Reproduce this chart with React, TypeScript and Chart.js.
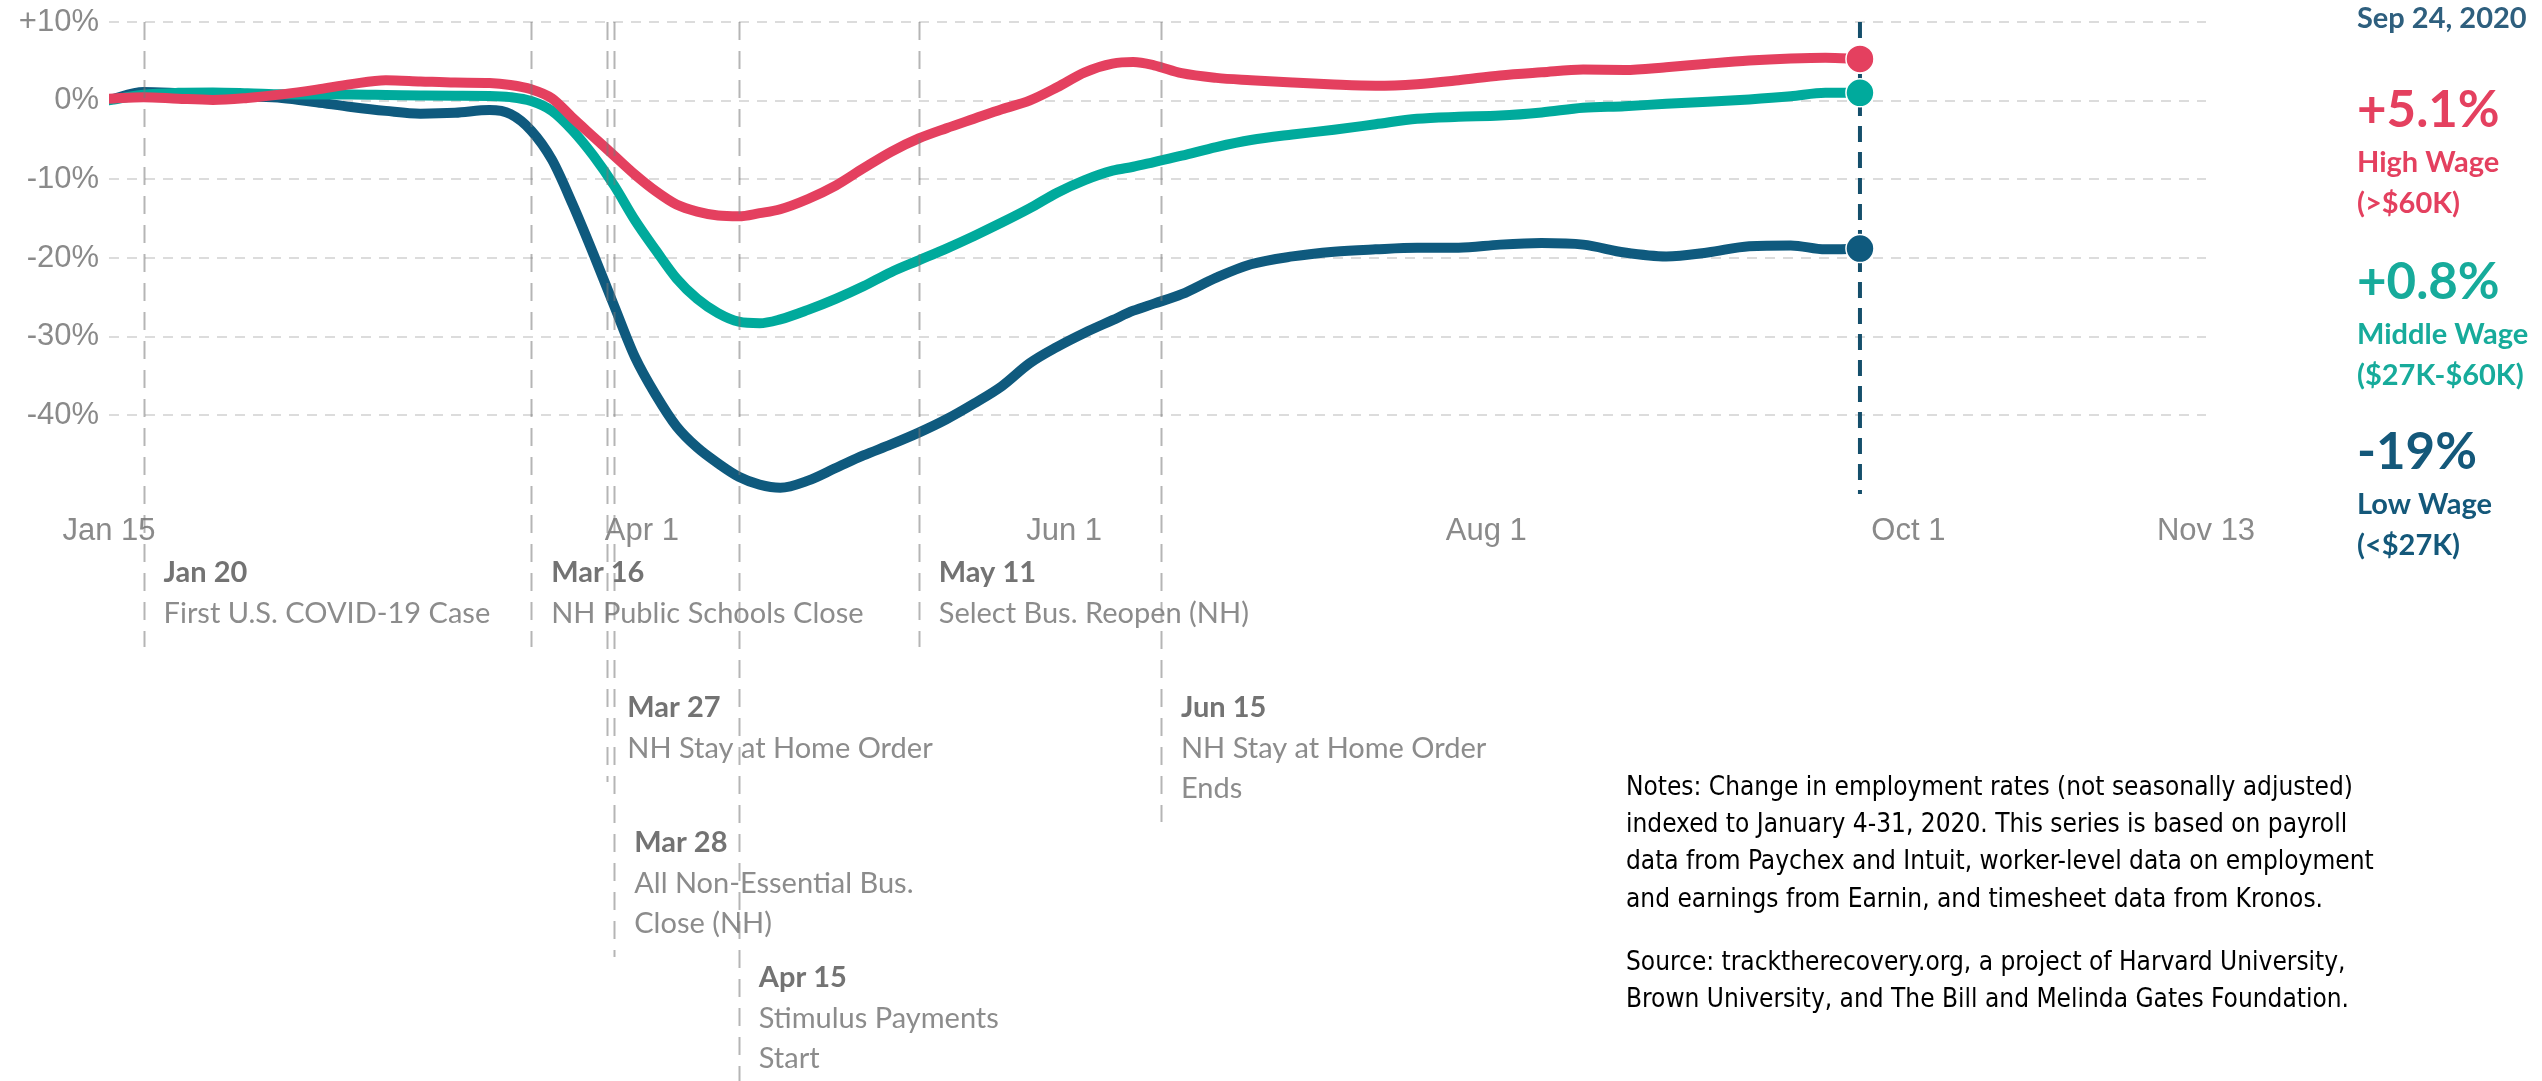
import React, { useEffect, useRef } from 'react';
import { Chart, registerables } from 'chart.js';

Chart.register(...registerables);

// Day of year (2020) for each observation
const DAYS = [15, 20, 25, 30, 35, 40, 45, 50, 55, 60, 65, 70, 73, 76, 79, 82, 85, 88, 91, 94, 97, 100, 103, 106, 109, 112, 116, 120, 124, 128, 132, 136, 140, 144, 148, 152, 156, 160, 163, 166, 170, 175, 180, 186, 192, 198, 204, 210, 216, 222, 228, 234, 240, 246, 252, 258, 263, 268];

const HIGH_WAGE = [0.25, 0.45, 0.25, 0.1, 0.35, 0.8, 1.4, 2.1, 2.6, 2.45, 2.3, 2.25, 2.0, 1.45, 0.3, -2.2, -4.6, -7.0, -9.4, -11.5, -13.2, -14.1, -14.6, -14.7, -14.3, -13.8, -12.5, -10.8, -8.6, -6.5, -4.8, -3.5, -2.3, -1.1, 0.0, 1.7, 3.6, 4.7, 4.9, 4.5, 3.5, 2.9, 2.6, 2.3, 2.05, 1.9, 2.1, 2.6, 3.2, 3.6, 3.95, 3.9, 4.25, 4.7, 5.1, 5.35, 5.45, 5.3];

const MIDDLE_WAGE = [0.05, 0.75, 1.0, 1.05, 0.95, 0.8, 0.77, 0.77, 0.72, 0.66, 0.62, 0.6, 0.45, -0.05, -1.3, -3.8, -7.0, -10.8, -15.2, -19.0, -22.6, -25.2, -27.0, -28.1, -28.3, -27.8, -26.6, -25.2, -23.6, -21.8, -20.3, -18.8, -17.2, -15.5, -13.7, -11.7, -10.1, -8.9, -8.4, -7.8, -7.0, -5.9, -5.0, -4.3, -3.7, -3.0, -2.3, -2.05, -1.9, -1.5, -0.9, -0.7, -0.4, -0.15, 0.15, 0.55, 1.0, 1.0];

const LOW_WAGE = [0.1, 1.1, 0.95, 0.75, 0.55, 0.35, -0.2, -0.8, -1.3, -1.65, -1.55, -1.2, -1.7, -3.8, -7.5, -13.2, -19.5, -26.1, -32.6, -37.4, -41.4, -44.1, -46.1, -47.8, -48.8, -49.2, -48.3, -46.7, -45.1, -43.7, -42.2, -40.5, -38.5, -36.3, -33.4, -31.3, -29.5, -27.9, -26.7, -25.8, -24.6, -22.5, -20.8, -19.8, -19.2, -18.9, -18.7, -18.7, -18.3, -18.1, -18.3, -19.3, -19.8, -19.3, -18.5, -18.4, -18.9, -18.8];

const X_TICK_DAYS = [15, 92, 153, 214, 275, 318];
const X_TICK_LABELS = ['Jan 15', 'Apr 1', 'Jun 1', 'Aug 1', 'Oct 1', 'Nov 13'];
const Y_TICKS = [-40, -30, -20, -10, 0, 10];

const EVENT_DAYS = [20, 76, 87, 88, 106, 132, 167];
const EVENT_DATES = ['Jan 20', 'Mar 16', 'Mar 27', 'Mar 28', 'Apr 15', 'May 11', 'Jun 15'];
const EVENT_TEXT = [
  ['First U.S. COVID-19 Case'],
  ['NH Public Schools Close'],
  ['NH Stay at Home Order'],
  ['All Non-Essential Bus.', 'Close (NH)'],
  ['Stimulus Payments', 'Start'],
  ['Select Bus. Reopen (NH)'],
  ['NH Stay at Home Order', 'Ends'],
];
const EVENT_ROW = [0, 0, 1, 2, 3, 0, 1];

const LATEST_DAY = 268;
const LATEST_DATE = 'Sep 24, 2020';
const SERIES_NAMES = ['High Wage', 'Middle Wage', 'Low Wage'];
const SERIES_RANGES = ['(>$60K)', '($27K-$60K)', '(<$27K)'];
const SERIES_CHANGES = ['+5.1%', '+0.8%', '-19%'];

const NOTES = [
  'Notes: Change in employment rates (not seasonally adjusted)',
  'indexed to January 4-31, 2020. This series is based on payroll',
  'data from Paychex and Intuit, worker-level data on employment',
  'and earnings from Earnin, and timesheet data from Kronos.',
];
const SOURCE = [
  'Source: tracktherecovery.org, a project of Harvard University,',
  'Brown University, and The Bill and Melinda Gates Foundation.',
];

const RED = '#e4405f';
const TEAL = '#00aa9c';
const NAVY = '#0f5a7e';
const LABEL_COLORS = ['#e4405f', '#17ab9b', '#14587a'];

const W = 2542;
const H = 1081;

const annotationPlugin = {
  id: 'annotations',
  beforeDatasetsDraw(chart: any) {
    const { ctx, chartArea, scales } = chart;
    const px = scales.x.getPixelForValue(LATEST_DAY);
    ctx.save();
    ctx.strokeStyle = '#154f6b';
    ctx.lineWidth = 4;
    ctx.setLineDash([16, 10]);
    ctx.beginPath();
    ctx.moveTo(px, chartArea.top);
    ctx.lineTo(px, chartArea.bottom);
    ctx.stroke();
    ctx.restore();
  },
  afterDatasetsDraw(chart: any) {
    const { ctx, chartArea, scales } = chart;
    ctx.save();
    ctx.textAlign = 'left';
    ctx.textBaseline = 'middle';
    const ends: number[] = [];
    EVENT_DAYS.forEach((d, i) => {
      const px = scales.x.getPixelForValue(d);
      const y0 = chartArea.bottom + 79 + EVENT_ROW[i] * 135;
      ctx.font = 'bold 29px Lato, "DejaVu Sans", sans-serif';
      ctx.fillStyle = '#737373';
      ctx.fillText(EVENT_DATES[i], px + 20, y0);
      ctx.font = '29px Lato, "DejaVu Sans", sans-serif';
      ctx.fillStyle = '#8c8c8c';
      let last = y0;
      EVENT_TEXT[i].forEach((t, k) => {
        last = y0 + 41 + k * 40;
        ctx.fillText(t, px + 20, last);
      });
      ends.push(Math.min(H, last + 33));
    });
    ctx.strokeStyle = 'rgba(120,120,120,0.55)';
    ctx.lineWidth = 2;
    ctx.setLineDash([18, 11]);
    EVENT_DAYS.forEach((d, i) => {
      const px = Math.round(scales.x.getPixelForValue(d)) + 0.5;
      ctx.beginPath();
      ctx.moveTo(px, chartArea.top);
      ctx.lineTo(px, ends[i]);
      ctx.stroke();
    });
    ctx.restore();
  },
  afterDraw(chart: any) {
    const { ctx } = chart;
    ctx.save();
    ctx.textAlign = 'left';
    ctx.textBaseline = 'middle';
    const lx = 2357;
    ctx.font = 'bold 29px Lato, "DejaVu Sans", sans-serif';
    ctx.fillStyle = '#2e5f7e';
    ctx.fillText(LATEST_DATE, lx, 19);
    const baseY = [111, 283, 453];
    SERIES_NAMES.forEach((name, i) => {
      ctx.fillStyle = LABEL_COLORS[i];
      ctx.font = 'bold 51px Lato, "DejaVu Sans", sans-serif';
      ctx.fillText(SERIES_CHANGES[i], lx, baseY[i]);
      ctx.font = 'bold 29px Lato, "DejaVu Sans", sans-serif';
      ctx.fillText(name, lx, baseY[i] + 52);
      ctx.fillText(SERIES_RANGES[i], lx, baseY[i] + 93);
    });
    ctx.fillStyle = '#000';
    ctx.font = '26px "DejaVu Sans Condensed", "DejaVu Sans", sans-serif';
    NOTES.forEach((t, k) => ctx.fillText(t, 1626, 788 + k * 37.3));
    SOURCE.forEach((t, k) => ctx.fillText(t, 1626, 963 + k * 37.3));
    ctx.restore();
  },
};

export default function App() {
  const ref = useRef<HTMLCanvasElement | null>(null);

  useEffect(() => {
    document.body.style.margin = '0';
    document.body.style.overflow = 'hidden';
    const canvas = ref.current;
    if (!canvas) return;
    const mk = (vals: number[]) => DAYS.map((d, i) => ({ x: d, y: vals[i] }));
    const last = DAYS.length - 1;
    const ds = (label: string, vals: number[], color: string) => ({
      label,
      data: mk(vals),
      borderColor: color,
      backgroundColor: color,
      borderWidth: 10,
      borderCapStyle: 'round',
      borderJoinStyle: 'round',
      cubicInterpolationMode: 'monotone',
      pointRadius: (c: any) => (c.dataIndex === last ? 14 : 0),
      pointHoverRadius: (c: any) => (c.dataIndex === last ? 14 : 0),
      pointBackgroundColor: color,
      pointBorderColor: '#ffffff',
      pointBorderWidth: 1.5,
      fill: false,
    });
    const tickFont = { family: '"Liberation Sans", Arial, sans-serif', size: 31 };
    const chart = new Chart(canvas, {
      type: 'line',
      data: {
        datasets: [
          ds(SERIES_NAMES[0], HIGH_WAGE, RED),
          ds(SERIES_NAMES[1], MIDDLE_WAGE, TEAL),
          ds(SERIES_NAMES[2], LOW_WAGE, NAVY),
        ] as any,
      },
      options: {
        animation: false,
        responsive: false,
        devicePixelRatio: 1,
        layout: { padding: { left: 0, top: 22, right: W - 2206, bottom: 0 } },
        plugins: { legend: { display: false }, tooltip: { enabled: false } },
        events: [],
        scales: {
          x: {
            type: 'linear',
            min: 15,
            max: 318,
            grid: { display: false },
            border: { display: false },
            afterBuildTicks: (s: any) => {
              s.ticks = X_TICK_DAYS.map((v) => ({ value: v }));
            },
            afterFit: (s: any) => {
              s.height = H - 494;
              s.paddingLeft = 0;
              s.paddingRight = 0;
            },
            ticks: {
              autoSkip: false,
              maxRotation: 0,
              minRotation: 0,
              padding: 11,
              color: '#8a8a8a',
              font: tickFont,
              callback: (v: any) => {
                const i = X_TICK_DAYS.indexOf(Number(v));
                return i >= 0 ? X_TICK_LABELS[i] : '';
              },
            },
          },
          y: {
            type: 'linear',
            min: -50,
            max: 10,
            afterBuildTicks: (s: any) => {
              s.ticks = Y_TICKS.map((v) => ({ value: v }));
            },
            afterFit: (s: any) => {
              s.width = 109;
              s.paddingTop = 0;
              s.paddingBottom = 0;
            },
            grid: { color: '#dcdcdc', lineWidth: 2, drawTicks: false },
            border: { display: false, dash: [10, 8] },
            ticks: {
              padding: 10,
              color: '#8a8a8a',
              font: tickFont,
              callback: (v: any) => (Number(v) > 0 ? `+${v}%` : `${v}%`),
            },
          },
        },
      } as any,
      plugins: [annotationPlugin],
    });
    return () => chart.destroy();
  }, []);

  return (
    <div style={{ position: 'absolute', left: 0, top: 0, width: W, height: H, background: '#fff' }}>
      <canvas ref={ref} width={W} height={H} style={{ display: 'block' }} />
    </div>
  );
}
